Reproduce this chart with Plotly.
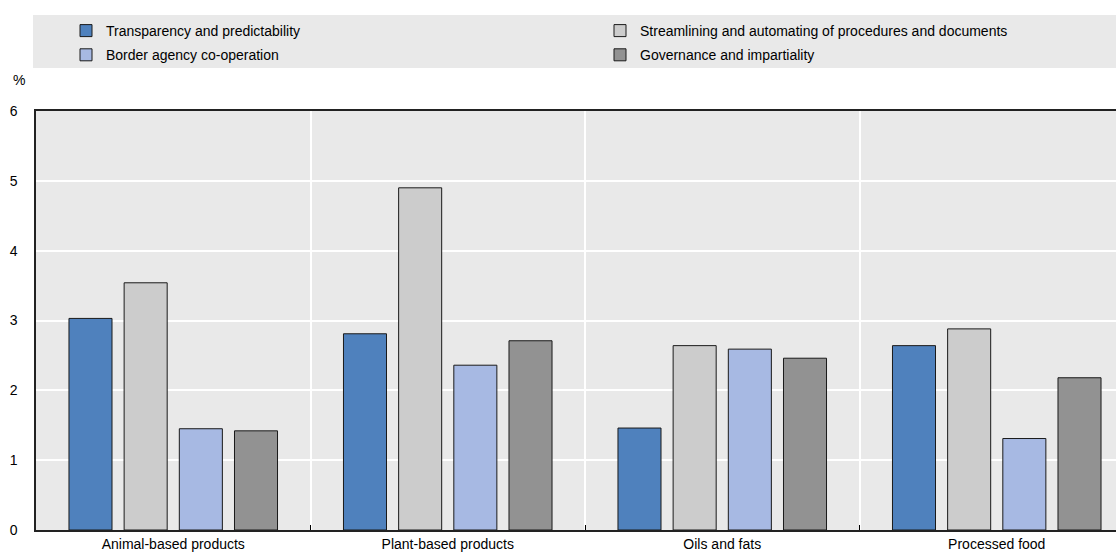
import plotly.graph_objects as go

categories = ["Animal-based products", "Plant-based products", "Oils and fats", "Processed food"]
series_names = [
    "Transparency and predictability",
    "Streamlining and automating of procedures and documents",
    "Border agency co-operation",
    "Governance and impartiality",
]
transparency = [3.03, 2.81, 1.46, 2.64]
streamlining = [3.54, 4.90, 2.64, 2.88]
border = [1.45, 2.36, 2.59, 1.31]
governance = [1.42, 2.71, 2.46, 2.18]
y_ticks = [0, 1, 2, 3, 4, 5, 6]

colors = ["#4F81BD", "#CCCCCC", "#A7B9E3", "#929292"]
values = [transparency, streamlining, border, governance]
legend_ids = ["legend", "legend2", "legend", "legend2"]

FONT = "Liberation Sans, Arial, sans-serif"

# the chart's plot area runs past the right edge of the 1116px window
W, H = 1134, 556
L, R, T, B = 36, 0, 111, 26
PW, PH = W - L - R, H - T - B

def px_x(x):
    return (x - L) / PW

def px_y(y):
    return (H - B - y) / PH

fig = go.Figure()
for i, (name, vals, c, lg) in enumerate(zip(series_names, values, colors, legend_ids)):
    fig.add_trace(go.Bar(
        x=categories, y=vals, name=name, legend=lg, legendgroup=f"g{i}",
        marker=dict(color=c, line=dict(color="#1a1a1a", width=1)),
    ))

leg_common = dict(
    orientation="v", yanchor="top", xanchor="left",
    bgcolor="rgba(0,0,0,0)", font=dict(family=FONT, size=14),
    itemwidth=30, tracegroupgap=3,
)

fig.update_layout(
    width=W, height=H,
    margin=dict(l=L, r=R, t=T, b=B, autoexpand=False),
    paper_bgcolor="white", plot_bgcolor="#E9E9E9",
    font=dict(family=FONT, size=14, color="black"),
    barmode="group", bargap=0.196, bargroupgap=0.22,
    legend=dict(x=px_x(66), y=px_y(15), **leg_common),
    legend2=dict(x=px_x(600), y=px_y(15), **leg_common),
    showlegend=True,
)
fig.add_shape(type="rect", xref="paper", yref="paper",
              x0=px_x(33), x1=1.0, y0=px_y(68), y1=px_y(15),
              fillcolor="#E9E9E9", line=dict(width=0), layer="below")
fig.add_annotation(text="%", xref="paper", yref="paper", x=px_x(11), y=px_y(80),
                   xanchor="left", yanchor="middle", showarrow=False,
                   font=dict(family=FONT, size=14))

fig.update_xaxes(
    type="category", tickson="boundaries", ticks="inside", ticklen=5,
    tickcolor="black", showgrid=True, gridcolor="white", gridwidth=1.5,
    showline=True, linecolor="#222222", linewidth=1.5, mirror=True, automargin=False,
    tickfont=dict(family=FONT, size=14),
)
fig.update_yaxes(
    range=[0, 6], tickvals=y_ticks, showgrid=True, gridcolor="white", gridwidth=1.5,
    showline=True, linecolor="#222222", linewidth=1.5, zeroline=False,
    ticks="", ticklabelstandoff=14, automargin=False,
    tickfont=dict(family=FONT, size=14),
)

fig.write_html("out.html", config={"displayModeBar": False},
               post_script="document.body.style.margin='0';document.body.style.overflow='hidden';")
